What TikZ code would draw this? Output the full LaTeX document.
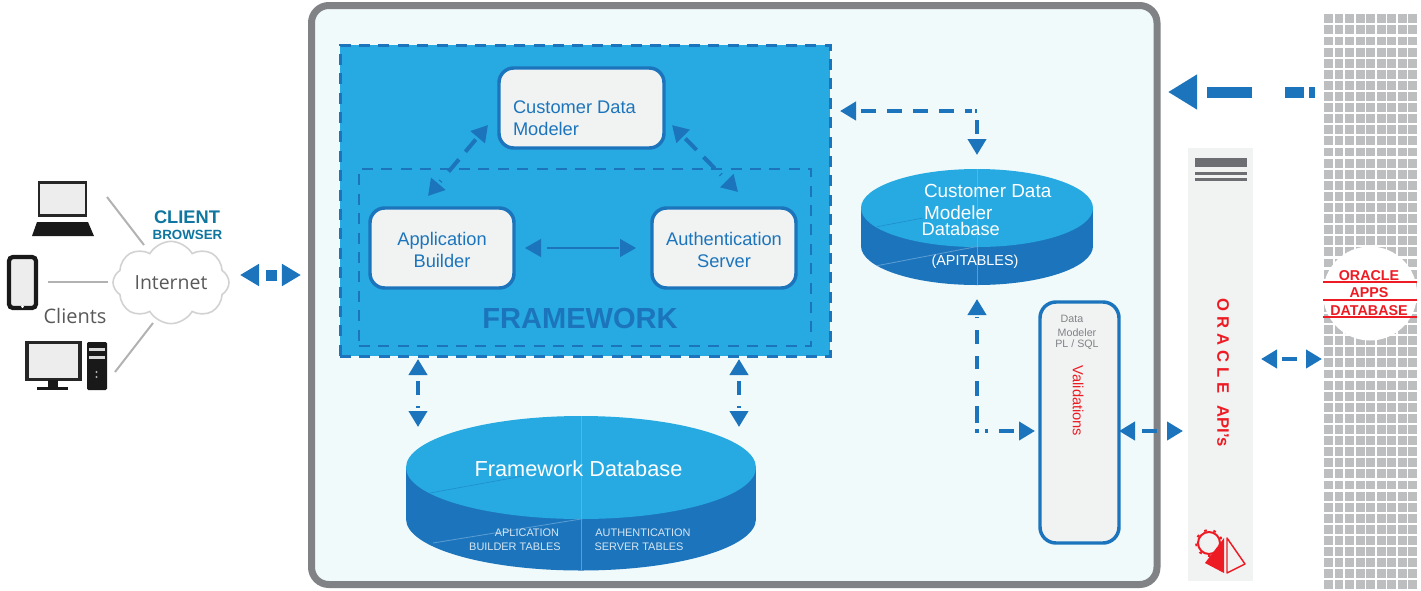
\documentclass[tikz,border=0pt]{standalone}
\usepackage{fontspec}
\setmainfont{Liberation Sans}
\newfontfamily\cloudfont{Open Sans}
\usetikzlibrary{arrows.meta,shapes.geometric,shapes.symbols}
\definecolor{arrowblue}{HTML}{1C75BC}
\definecolor{skyblue}{HTML}{27AAE1}
\definecolor{framegray}{HTML}{808285}
\definecolor{framefill}{HTML}{F1FAFA}
\definecolor{panelfill}{HTML}{F1F2F2}
\definecolor{gridgray}{HTML}{BCBEC0}
\definecolor{barcolor}{HTML}{6D6E71}
\definecolor{orared}{HTML}{ED1C24}
\definecolor{clienttxt}{HTML}{0F76A0}
\definecolor{tabletxt}{HTML}{D6E6F4}
\definecolor{sepside}{HTML}{5B9DD3}
\definecolor{septop}{HTML}{4DB8E8}
\definecolor{septoplow}{HTML}{1F8FD0}
\newcommand\fsize[2]{\fontsize{#1}{#2}\selectfont}
\tikzset{
  wh/.style 2 args={minimum width=#1*0.75pt,minimum height=#2*0.75pt,inner sep=0pt,outer sep=0pt},
  framebox/.style={draw=framegray,fill=framefill,line width=5.25pt,rounded corners=13pt},
  fwarea/.style={draw=arrowblue,fill=skyblue,line width=2.25pt,dash pattern=on 8.25pt off 6.3pt},
  fwinner/.style={draw=arrowblue,line width=2pt,dash pattern=on 8.25pt off 6.3pt},
  compbox/.style={draw=arrowblue,fill=panelfill,line width=2.6pt,rounded corners=11pt,text=arrowblue,align=center},
  dbtop/.style={ellipse,fill=skyblue},
  conn/.style={draw=arrowblue,line width=3pt,{Triangle[length=12pt,width=13.5pt]}-{Triangle[length=12pt,width=13.5pt]}},
  devline/.style={draw=gray!60,line width=1.5pt},
  lbl/.style={inner sep=0pt,outer sep=0pt},
}
\begin{document}
\begin{tikzpicture}[x=0.75pt,y=-0.75pt]
\useasboundingbox (0,0) rectangle (1421,590);
\fill[white] (0,0) rectangle (1421,590);

% oracle database grid
\foreach \i in {0,...,8}{
  \foreach \j in {0,...,51}{
    \pgfmathsetmacro{\gx}{1324+\i*10.55}
    \pgfmathsetmacro{\gy}{14.3+\j*11.1}
    \fill[gridgray] (\gx,\gy) rectangle ++(8.9,8.9);
  }
}
\node[wh={94}{576},lbl] (oradb) at (1371,302) {};
\node[circle,fill=white,wh={94}{94}] (oracirc) at (1370,293.5) {};
\foreach \ly in {281.7,299.7,317}{\draw[orared,line width=1.2pt] (1323,\ly) -- (1417,\ly);}
\node[lbl,text=orared,font=\bfseries\fsize{10.7}{12}] (oratxt1) at (1369,275.5) {ORACLE};
\node[lbl,text=orared,font=\bfseries\fsize{10.7}{12}] (oratxt2) at (1369,293) {APPS};
\node[lbl,text=orared,font=\bfseries\fsize{10.7}{12}] (oratxt3) at (1369,310.5) {DATABASE};

% API panel
\node[wh={65}{433},fill=panelfill] (api) at (1220.5,364.5) {};
\fill[barcolor] (1195,158) rectangle (1247,167);
\fill[barcolor] (1195,172) rectangle (1247,175);
\fill[barcolor] (1195,178) rectangle (1247,181);
\node[lbl,rotate=-90,text=orared,font=\bfseries\fsize{12.5}{14}] (apitxt) at (1223,372.5)
  {{\addfontfeature{LetterSpace=30}ORACLE}\hspace{9pt}API's};
\draw[orared,line width=1.5pt] (1209,543) circle (11);
\draw[orared,line width=1.5pt,dash pattern=on 2pt off 5pt] (1209,543) circle (13);
\fill[orared] (1224,538) -- (1205,563) -- (1224,573) -- cycle;
\draw[orared,line width=1.1pt,line join=round] (1227,538) -- (1245,564) -- (1227,573) -- cycle;

% main frame
\node[framebox,wh={845.5}{579}] (frame) at (734.25,295) {};

% framework
\node[fwarea,wh={490}{311}] (framework) at (585,200.5) {};
\node[fwinner,wh={452}{177}] (fwcore) at (585,257.5) {};
\node[compbox,wh={165}{80}] (cdm) at (581.5,108) {};
\node[lbl,text=arrowblue,align=left,anchor=west,font=\fsize{13.7}{16.2}] (cdmtxt) at (513,118) {Customer Data\\Modeler};
\node[compbox,wh={144}{80},font=\fsize{13.7}{16.2}] (builder) at (442,248) {\rule{0pt}{4pt}\\[-7.3pt]Application\\Builder};
\node[compbox,wh={144}{80},font=\fsize{13.7}{16.2}] (auth) at (724,248) {\rule{0pt}{4pt}\\[-7.3pt]Authentication\\Server};
\node[lbl,text=arrowblue,font=\bfseries\fsize{21.8}{24}] (fwtxt) at (580,318) {FRAMEWORK};

\coordinate (dgA) at (488,125);
\coordinate (dgB) at (428,196);
\coordinate (dgC) at (672,125);
\coordinate (dgD) at (738,192);
\draw[conn,dash pattern=on 0pt off 3pt on 12pt off 7.5pt on 12pt off 9pt on 0.8pt off 20pt] (dgA) -- (dgB);
\draw[conn,dash pattern=on 0pt off 3pt on 12pt off 7.5pt on 12pt off 6pt on 0.8pt off 20pt] (dgC) -- (dgD);
\draw[conn,line width=0.9pt,shorten <=8.25pt,shorten >=12pt,dash pattern=on 0pt off 4.5pt on 54pt off 60pt] (builder.east) -- (auth.west);

% framework database
\fill[arrowblue] (406,467.5) rectangle (756,519);
\fill[arrowblue] (581,519) ellipse [x radius=175,y radius=51.5];
\node[dbtop,wh={350}{103}] (fwdb) at (581,467.5) {};
\coordinate (fwdbbase) at (581,570);
\draw[septop,line width=0.5pt] (fwdb.north) -- (fwdb.south);
\draw[sepside,line width=0.6pt] (fwdb.south) -- (fwdbbase);
\draw[septoplow,line width=0.5pt] (430,493) -- (523,476);
\draw[sepside,line width=0.6pt] (581,519) -- (433,543);
\node[lbl,text=white,font=\fsize{16.3}{20}] (fwdbtxt) at (578.5,469) {Framework Database};
\node[lbl,text=tabletxt,font=\fsize{8.2}{10}] (tb1) at (527,533) {APLICATION};
\node[lbl,text=tabletxt,font=\fsize{8.2}{10}] (tb2) at (515,547) {BUILDER TABLES};
\node[lbl,text=tabletxt,font=\fsize{8.2}{10}] (tb3) at (643,533) {AUTHENTICATION};
\node[lbl,text=tabletxt,font=\fsize{8.2}{10}] (tb4) at (639,547) {SERVER TABLES};

\coordinate (fbA) at (418,359);
\coordinate (fbB) at (418,427);
\coordinate (fbC) at (739,359);
\coordinate (fbD) at (739,427);
\draw[conn,dash pattern=on 0pt off 5.25pt on 10.5pt off 8.5pt on 1.1pt off 20pt] (fbA) -- (fbB);
\draw[conn,dash pattern=on 0pt off 5.25pt on 10.5pt off 8.5pt on 1.1pt off 20pt] (fbC) -- (fbD);

% customer data modeler database
\fill[arrowblue] (861,208) rectangle (1093,246);
\fill[arrowblue] (977,246) ellipse [x radius=116,y radius=39];
\node[dbtop,wh={232}{78}] (cdb) at (977,208) {};
\coordinate (cdbbase) at (977,285);
\draw[septop,line width=0.5pt] (cdb.north) -- (cdb.south);
\draw[sepside,line width=0.6pt] (cdb.south) -- (cdbbase);
\draw[septoplow,line width=0.5pt] (877,226.7) -- (923,218);
\draw[sepside,line width=0.6pt] (977,246.5) -- (877,265.7);
\node[lbl,text=white,anchor=west,font=\fsize{14.2}{16}] (cdbt1) at (924,190.7) {Customer Data};
\node[lbl,text=white,anchor=west,font=\fsize{14.2}{16}] (cdbt2) at (924,212.7) {Modeler};
\node[lbl,text=white,anchor=west,font=\fsize{13.7}{16}] (cdbt3) at (921.7,228.5) {Database};
\node[lbl,text=white,font=\fsize{10.8}{13}] (cdbt4) at (975,262) {(APITABLES)};

% validations box
\node[draw=arrowblue,fill=panelfill,line width=2.6pt,rounded corners=12pt,wh={79}{241}] (val) at (1079.5,422.5) {};
\node[lbl,text=framegray,font=\fsize{8}{10}] (vt1) at (1072,319) {Data};
\node[lbl,text=framegray,font=\fsize{8}{10}] (vt2) at (1077,332.5) {Modeler};
\node[lbl,text=framegray,font=\fsize{8}{10}] (vt3) at (1077,345) {PL / SQL};
\node[lbl,rotate=-90,text=orared,font=\fsize{11}{13}] (vt4) at (1078,401) {Validations};

% connectors around
\coordinate (lA) at (840,111);
\draw[conn,shorten >=10.5pt,dash pattern=on 0pt off 4.5pt on 11.25pt off 8.25pt on 11.25pt off 8.25pt on 11.25pt off 8.25pt on 11.25pt off 8.25pt on 5.25pt off 2.25pt on 1.5pt off 6.75pt on 10.5pt off 20pt] (lA) -| (cdb.north);
\draw[conn,shorten <=3.75pt,shorten >=10.5pt,dash pattern=on 0pt off 4.5pt on 11.25pt off 8.25pt on 2.25pt off 4.5pt on 3pt off 4.5pt on 12.75pt off 7.5pt on 11.25pt off 9pt on 9.75pt off 9pt on 10.5pt off 9pt on 1.1pt off 20pt] ([shift={(0,8.5)}]val.west) -| (cdbbase);
\coordinate (vA) at (1119,431);
\draw[conn,shorten >=3.75pt,dash pattern=on 0pt off 6pt on 11.25pt off 30pt] (vA) -- (vA -| api.west);
\coordinate (apA) at (1253,359);
\draw[conn,shorten <=6pt,shorten >=1.5pt,dash pattern=on 0pt off 4.5pt on 11.25pt off 30pt] (apA) -- (apA -| oradb.west);
\coordinate (bigA) at (1315,92);
\draw[draw=arrowblue,line width=8.25pt,-{Triangle[length=21.75pt,width=24.75pt]},shorten >=8.25pt,dash pattern=on 4.5pt off 3.75pt on 14.25pt off 24.75pt on 33.75pt off 20pt] (bigA) -- (bigA -| frame.east);

% internet cloud
\node[cloud,cloud puffs=8,cloud puff arc=120,aspect=1.6,draw=gray!35,line width=1.2pt,fill=white,wh={116}{71},text=black!65,font=\cloudfont\fsize{14.6}{17}] (cloud) at (171,282.5) {Internet};
\coordinate (clA) at (229,275);
\draw[draw=arrowblue,line width=8.25pt,{Triangle[length=14.25pt,width=15.75pt]}-{Triangle[length=14.25pt,width=15.75pt]},shorten <=8.25pt,shorten >=7.9pt,dash pattern=on 0pt off 6pt on 8.25pt off 60pt] (clA) -- (clA -| frame.west);
\node[lbl,text=clienttxt,font=\bfseries\fsize{13.7}{16}] (clt1) at (187,217) {CLIENT};
\node[lbl,text=clienttxt,font=\bfseries\fsize{10}{12}] (clt2) at (187.5,235) {BROWSER};
\node[lbl,text=black!65,font=\cloudfont\fsize{15}{17}] (clt3) at (75,316) {Clients};

% laptop
\node[draw=black!85,fill=black!7,line width=2.2pt,wh={47}{33}] (laptop) at (62.5,199) {};
\fill[black!90] (37,222) -- (88,222) -- (94,236) -- (32,236) -- cycle;
% phone
\node[draw=black!90,fill=black!7,line width=3.2pt,rounded corners=3pt,wh={27}{51}] (phone) at (22.5,282.5) {};
\fill[white] (22.5,306.5) circle (1.5);
% desktop
\node[draw=black!85,fill=black!7,line width=2.4pt,wh={53}{37}] (monitor) at (53.5,361) {};
\fill[black!90] (48,380) rectangle (58,388);
\fill[black!90] (37,387) rectangle (68,390);
\node[fill=black!90,rounded corners=1pt,wh={20}{48}] (tower) at (97,366) {};
\fill[white!85!black] (89,348) rectangle (105,350.5);
\fill[white!85!black] (89,356) rectangle (105,358.5);
\fill[white!70!black] (96.5,372) circle (1.2);
\fill[white!70!black] (96.5,377) circle (1.2);

\draw[devline] (107,197) -- (144,245);
\draw[devline] (48,282) -- (108,282);
\draw[devline] (115,372) -- (153,323);
\end{tikzpicture}
\end{document}
